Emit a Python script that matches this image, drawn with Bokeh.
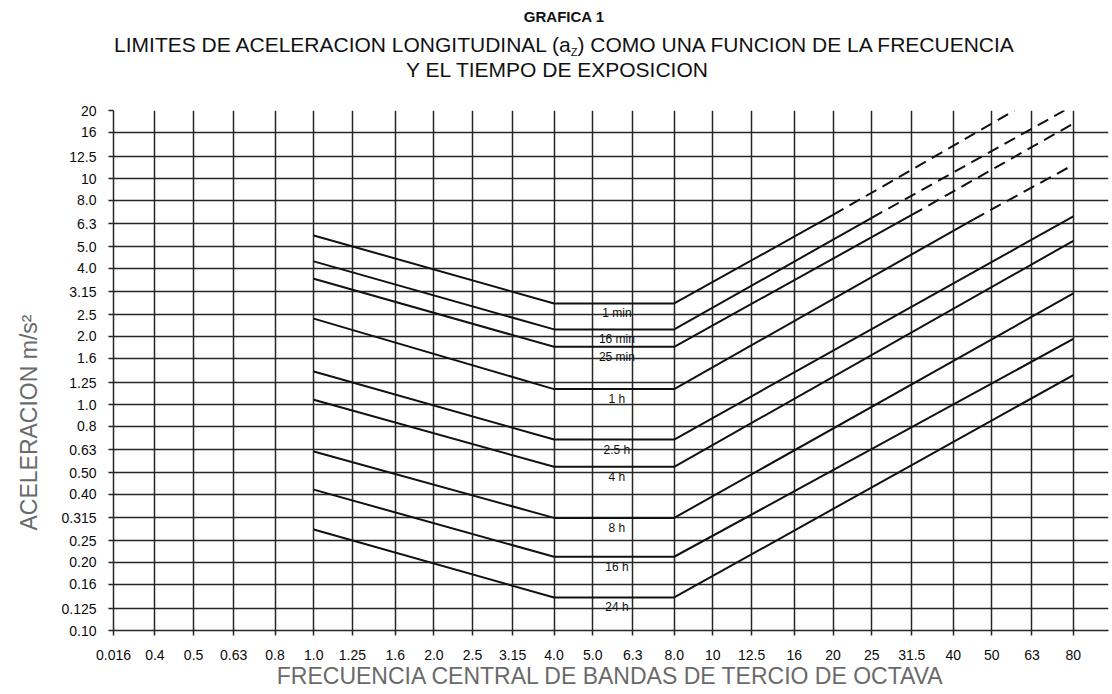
from bokeh.plotting import figure
from bokeh.models import FixedTicker, Range1d, ColumnDataSource, Div, Title
from bokeh.layouts import column
from bokeh.embed import file_html
from bokeh.resources import INLINE
from bokeh.core.properties import value

# ---- axis categories (tick labels) ----
x_tick_values = [0.315, 0.4, 0.5, 0.63, 0.8, 1.0, 1.25, 1.6, 2.0, 2.5, 3.15, 4.0,
                 5.0, 6.3, 8.0, 10, 12.5, 16, 20, 25, 31.5, 40, 50, 63, 80]
x_tick_labels = ["0.016", "0.4", "0.5", "0.63", "0.8", "1.0", "1.25", "1.6", "2.0",
                 "2.5", "3.15", "4.0", "5.0", "6.3", "8.0", "10", "12.5", "16", "20",
                 "25", "31.5", "40", "50", "63", "80"]
y_tick_values = [0.10, 0.125, 0.16, 0.20, 0.25, 0.315, 0.40, 0.50, 0.63, 0.8, 1.0,
                 1.25, 1.6, 2.0, 2.5, 3.15, 4.0, 5.0, 6.3, 8.0, 10, 12.5, 16, 20]
y_tick_labels = ["0.10", "0.125", "0.16", "0.20", "0.25", "0.315", "0.40", "0.50",
                 "0.63", "0.8", "1.0", "1.25", "1.6", "2.0", "2.5", "3.15", "4.0",
                 "5.0", "6.3", "8.0", "10", "12.5", "16", "20"]

# ---- exposure-time curves ----
durations = ["1 min", "16 min", "25 min", "1 h", "2.5 h", "4 h", "8 h", "16 h", "24 h"]
knee_freqs = [1.0, 4.0, 8.0]
acc_1hz = [5.6, 4.3, 3.6, 2.4, 1.4, 1.05, 0.62, 0.42, 0.28]
acc_flat = [2.8, 2.15, 1.8, 1.17, 0.70, 0.53, 0.315, 0.212, 0.14]
solid_end_freq = [20, 25, 31.5, 45, 80, 80, 80, 80, 80]
solid_end_acc = [6.9, 6.7, 6.9, 6.6, 6.8, 5.3, 3.1, 1.95, 1.35]
dash_end_freq = [57, 76, 80, 80, None, None, None, None, None]
dash_end_acc = [20, 20, 17.5, 11.5, None, None, None, None, None]

title_main = "GRAFICA 1"
title_line2_a = "LIMITES DE ACELERACION LONGITUDINAL (a"
title_line2_sub = "Z"
title_line2_b = ") COMO UNA FUNCION DE LA FRECUENCIA"
title_line3 = "Y EL TIEMPO DE EXPOSICION"
x_title = "FRECUENCIA CENTRAL DE BANDAS DE TERCIO DE OCTAVA"
y_title = "ACELERACION m/s²"

W = 1110
DIV_H = 102
H = 590
ML, MR, MT, MB = 112, 2, 8, 62

font = "'Liberation Sans', Arial, sans-serif"
html = (
    f'<div style="width:{W}px; text-align:center; font-family:{font}; color:#111;">'
    f'<div style="font-weight:bold; font-size:15px; line-height:34px; position:relative; left:9px;">{title_main}</div>'
    f'<div style="font-size:21px; line-height:21px; height:21px; position:relative; left:9px;">{title_line2_a}'
    f'<span style="font-size:11px; line-height:11px; position:relative; top:4px;">{title_line2_sub}</span>{title_line2_b}</div>'
    f'<div style="font-size:21px; line-height:30px; position:relative; left:2px;">{title_line3}</div>'
    '</div>'
)
header = Div(text=html, width=W, height=DIV_H, margin=(0, 0, 0, 0))

p = figure(width=W, height=H, x_axis_type="log", y_axis_type="log",
           x_range=Range1d(0.315, 98.0), y_range=Range1d(0.10, 20.0),
           output_backend="svg", toolbar_location=None,
           min_border_left=ML, min_border_right=MR, min_border_top=MT,
           min_border_bottom=MB, margin=(0, 0, 0, 0))
p.outline_line_color = None
p.background_fill_color = "white"
p.border_fill_color = "white"

grid_col = "#262626"
p.xaxis.ticker = FixedTicker(ticks=x_tick_values)
p.yaxis.ticker = FixedTicker(ticks=y_tick_values)
p.xgrid.ticker = FixedTicker(ticks=x_tick_values)
p.ygrid.ticker = FixedTicker(ticks=y_tick_values)
p.xaxis.major_label_overrides = {v: l for v, l in zip(x_tick_values, x_tick_labels)}
p.yaxis.major_label_overrides = {v: l for v, l in zip(y_tick_values, y_tick_labels)}
for g in (p.xgrid, p.ygrid):
    g.grid_line_color = grid_col
    g.grid_line_width = 1.5
    g.minor_grid_line_color = None

for ax in (p.xaxis, p.yaxis):
    ax.axis_line_color = grid_col
    ax.axis_line_width = 1.5
    ax.major_tick_line_color = grid_col
    ax.major_tick_line_width = 1.5
    ax.major_tick_out = 5
    ax.major_tick_in = 0
    ax.minor_tick_line_color = None
    ax.major_label_text_font = "Liberation Sans"
    ax.major_label_text_font_size = "14px"
    ax.major_label_text_color = "#0a0a0a"
    ax.axis_label_text_font = "Liberation Sans"
    ax.axis_label_text_font_style = "normal"
    ax.axis_label_text_font_size = "23px"
    ax.axis_label_text_color = "#6a6a6a"

p.xaxis.major_label_standoff = 14
p.xaxis.axis_label = x_title
p.xaxis.axis_label_standoff = 0
p.yaxis.major_label_standoff = 12

ytitle = Title(text=y_title, align="left", offset=100, standoff=30,
               vertical_align="top",
               text_font="Liberation Sans", text_font_size="23px",
               text_font_style="normal", text_color="#6a6a6a")
p.add_layout(ytitle, "left")

# solid curves
xs_s, ys_s = [], []
for a1, af, fe, ae in zip(acc_1hz, acc_flat, solid_end_freq, solid_end_acc):
    xs_s.append(knee_freqs + [fe])
    ys_s.append([a1, af, af, ae])
p.multi_line(xs=xs_s, ys=ys_s, line_color="#111111", line_width=2)

# dashed extensions
xs_d, ys_d = [], []
for fs, as_, fd, ad in zip(solid_end_freq, solid_end_acc, dash_end_freq, dash_end_acc):
    if fd is not None:
        xs_d.append([fs, fd])
        ys_d.append([as_, ad])
p.multi_line(xs=xs_d, ys=ys_d, line_color="#111111", line_width=2, line_dash="12 7")

# curve labels
src = ColumnDataSource(dict(x=[5.75] * len(durations), y=acc_flat, t=durations))
p.text(x="x", y="y", text="t", source=src, text_font=value("Liberation Sans"),
       text_font_size="12px", text_align="center", text_baseline="middle",
       y_offset=10, text_color="#111111")

layout = column(header, p, spacing=0)
open("out.html", "w").write(file_html(layout, INLINE))
